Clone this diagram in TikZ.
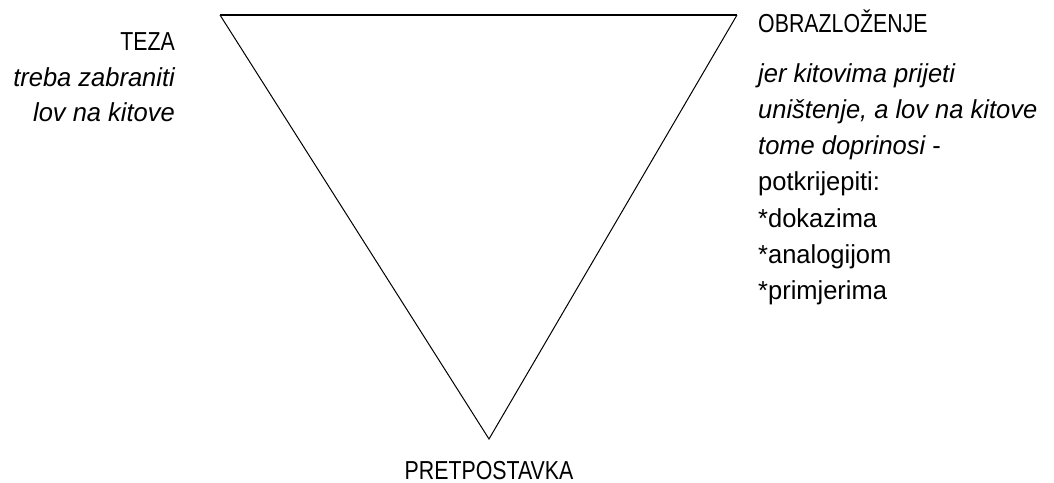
\documentclass[tikz,border=0pt]{standalone}
\usepackage{fontspec}
\setmainfont{Liberation Sans}[FakeStretch=0.98]
\newfontfamily\capsfont{Liberation Sans}[FakeStretch=0.82]
\begin{document}
\begin{tikzpicture}[x=1pt,y=1pt,
  lbl/.style={inner sep=0pt, font=\fontsize{26}{36}\selectfont},
  caps/.style={inner sep=0pt, font=\capsfont\fontsize{26}{36}\selectfont},
  side/.style={line width=1pt, line join=miter},
  topedge/.style={line width=2pt}]
\useasboundingbox (0,0) rectangle (1054,482);
\coordinate (A) at (220,467);
\coordinate (B) at (737,467);
\coordinate (C) at (489,43);
\draw[side] (A) -- (C) -- (B);
\draw[topedge] (A) -- (B);
% left block
\node[caps, anchor=base east] (teza) at (175,431) {TEZA};
\node[lbl, anchor=base east] (teza1) at (175,395) {\itshape treba zabraniti};
\node[lbl, anchor=base east] (teza2) at (175,360) {\itshape lov na kitove};
% right block
\node[caps, anchor=base west] (obr) at (758,449) {OBRAZLOŽENJE};
\node[lbl, anchor=base west] (obr1) at (758,399) {\itshape jer kitovima prijeti};
\node[lbl, anchor=base west] (obr2) at (758,363) {\itshape uništenje, a lov na kitove};
\node[lbl, anchor=base west] (obr3) at (758,327) {{\itshape tome doprinosi} -};
\node[lbl, anchor=base west] (obr4) at (758,291) {potkrijepiti:};
\node[lbl, anchor=base west] (obr5) at (758,254) {*dokazima};
\node[lbl, anchor=base west] (obr6) at (758,218) {*analogijom};
\node[lbl, anchor=base west] (obr7) at (758,182) {*primjerima};
% bottom
\node[caps, anchor=base] (pret) at (489,3) {PRETPOSTAVKA};
\end{tikzpicture}
\end{document}
